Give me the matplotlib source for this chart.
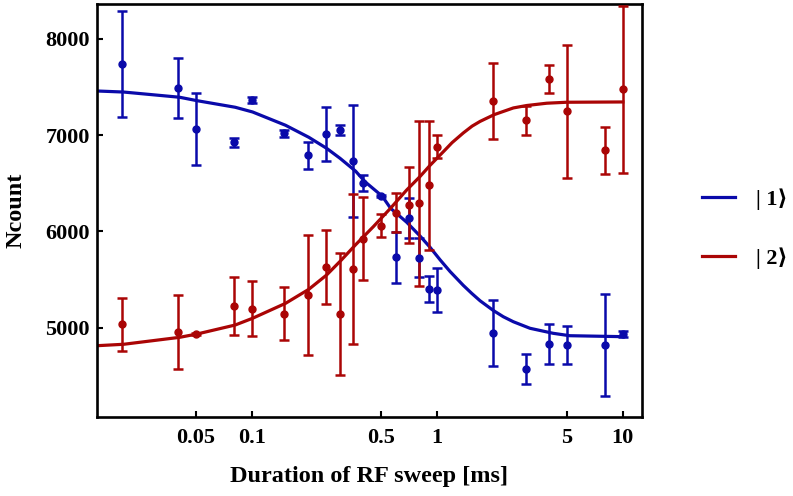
import matplotlib
matplotlib.use("Agg")
import matplotlib.pyplot as plt
from matplotlib.ticker import FixedLocator, FixedFormatter, NullLocator

# --- フォント (セリフ体・太字) ---
plt.rcParams["font.family"] = ["Liberation Serif", "DejaVu Serif", "DejaVu Sans"]
plt.rcParams["font.weight"] = "bold"

COLOR_1 = "#0A0AAA"   # |1>
COLOR_2 = "#AA0505"   # |2>

# --- 測定点 (掃引時間 [ms]) ---
t_ms = [0.02, 0.04, 0.05, 0.08, 0.1, 0.15, 0.2, 0.25, 0.3, 0.35, 0.4, 0.5,
        0.6, 0.7, 0.8, 0.9, 1.0, 2, 3, 4, 5, 8, 10]

n1 = [7735, 7492, 7063, 6925, 7365, 7019, 6790, 7015, 7053, 6730, 6503, 6368,
      5731, 6140, 5727, 5405, 5390, 4948, 4571, 4831, 4820, 4817, 4931]
n1_err = [549, 312, 377, 50, 35, 35, 143, 280, 50, 583, 80, 15,
          264, 212, 200, 134, 228, 343, 159, 206, 196, 531, 30]

n2 = [5035, 4952, 4938, 5228, 5197, 5145, 5340, 5627, 5142, 5610, 5925, 6060,
      6194, 6276, 6292, 6478, 6880, 7354, 7154, 7580, 7247, 6842, 7474]
n2_err = [272, 385, 12, 300, 285, 275, 625, 385, 635, 780, 432, 122,
          200, 393, 858, 670, 116, 392, 148, 145, 692, 245, 865]

# --- フィット曲線 (図から読み取った点) ---
fit1_t = [0.0146, 0.0204, 0.0408, 0.0508, 0.0814, 0.101, 0.152, 0.203, 0.253,
          0.299, 0.363, 0.408, 0.505, 0.56, 0.684, 0.807, 0.913, 1.034, 1.171,
          1.38, 1.532, 1.70, 1.85, 2.00, 2.269, 2.57, 3.16, 4.21, 5.17, 10]
fit1_n = [7458, 7447, 7393, 7357, 7289, 7240, 7102, 6977, 6863,
          6759, 6625, 6515, 6365, 6240, 6095, 5952, 5836, 5706, 5584,
          5440, 5357, 5280, 5228, 5180, 5114, 5062, 4994, 4942, 4917, 4907]

fit2_t = [0.0146, 0.0204, 0.0408, 0.0508, 0.0814, 0.101, 0.152, 0.203, 0.253,
          0.304, 0.363, 0.452, 0.558, 0.684, 0.807, 0.913, 1.10, 1.2, 1.38,
          1.54, 1.70, 1.85, 2.03, 2.57, 3.03, 3.89, 4.98, 10]
fit2_n = [4813, 4828, 4900, 4935, 5028, 5098, 5253, 5399, 5547,
          5703, 5862, 6049, 6238, 6430, 6570, 6685, 6845, 6921, 7022,
          7093, 7142, 7176, 7213, 7282, 7307, 7331, 7341, 7344]

x_ticks = [0.05, 0.1, 0.5, 1, 5, 10]
x_ticklabels = ["0.05", "0.1", "0.5", "1", "5", "10"]
y_ticks = [5000, 6000, 7000, 8000]

fig = plt.figure(figsize=(7.93, 4.96), dpi=100)
ax = fig.add_axes([0.1223, 0.1593, 0.6869, 0.8326])

line1, = ax.plot(fit1_t, fit1_n, color=COLOR_1, lw=2.3, zorder=2)
line2, = ax.plot(fit2_t, fit2_n, color=COLOR_2, lw=2.3, zorder=2)

ax.errorbar(t_ms, n1, yerr=n1_err, fmt="o", color=COLOR_1, ms=5,
            elinewidth=1.8, capsize=3.5, capthick=1.8, zorder=3)
ax.errorbar(t_ms, n2, yerr=n2_err, fmt="o", color=COLOR_2, ms=5,
            elinewidth=1.8, capsize=3.5, capthick=1.8, zorder=3)

ax.set_xscale("log")
ax.set_xlim(0.01464, 12.64)
ax.set_ylim(4073, 8361)

ax.xaxis.set_major_locator(FixedLocator(x_ticks))
ax.xaxis.set_major_formatter(FixedFormatter(x_ticklabels))
ax.xaxis.set_minor_locator(NullLocator())
ax.set_yticks(y_ticks)

ax.tick_params(direction="in", length=4, width=1.5, labelsize=16,
               top=False, right=False)
ax.tick_params(axis="x", pad=8)
ax.tick_params(axis="y", pad=5)
for sp in ax.spines.values():
    sp.set_linewidth(1.9)

ax.set_xlabel("Duration of RF sweep [ms]", fontsize=17.5, fontweight="bold", labelpad=13)
ax.set_ylabel("Ncount", fontsize=17.5, fontweight="bold", labelpad=14)

fig.legend([line1, line2], ["| 1⟩", "| 2⟩"], loc="center left",
           bbox_to_anchor=(0.885, 0.539), frameon=False, fontsize=16,
           handlelength=1.5, handletextpad=0.95, labelspacing=1.68,
           borderpad=0, borderaxespad=0)

fig.savefig("out.png", dpi=100)
